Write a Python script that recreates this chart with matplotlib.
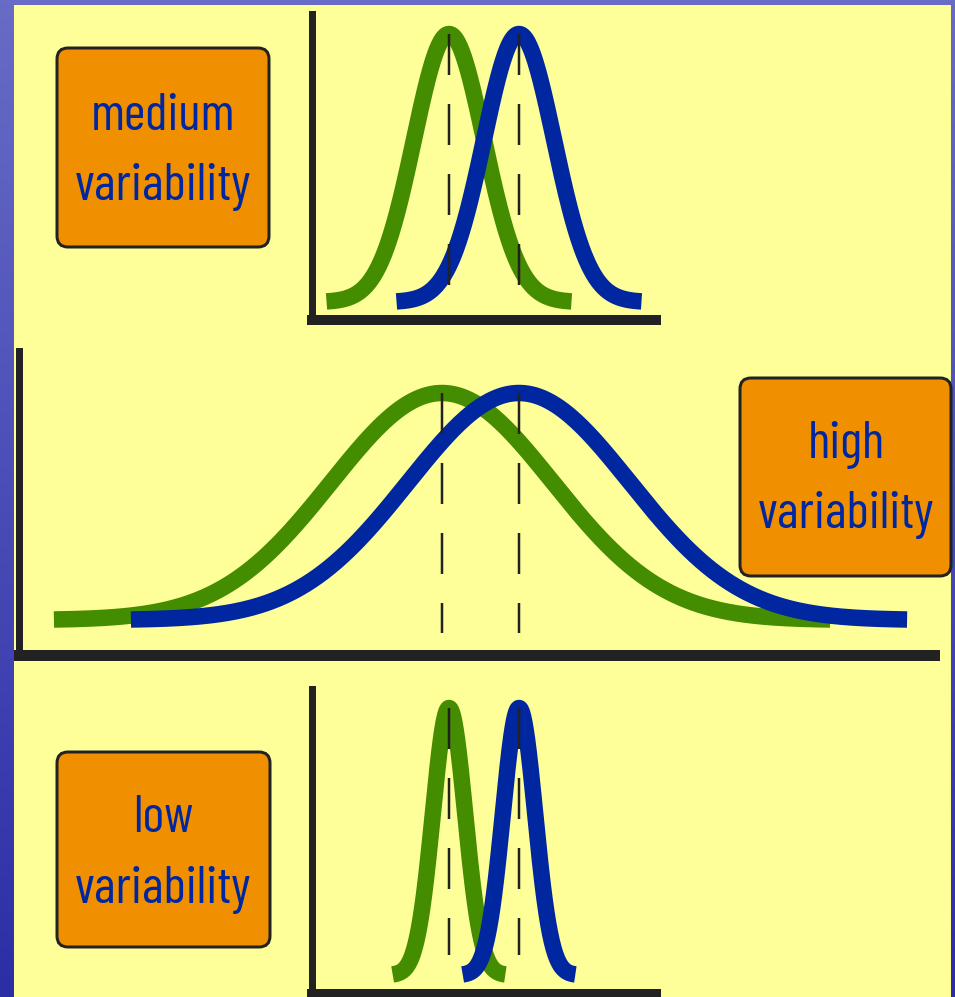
import numpy as np
import matplotlib
matplotlib.use('Agg')
import matplotlib.pyplot as plt
from matplotlib.patches import Rectangle, FancyBboxPatch

plt.rcParams['lines.scale_dashes'] = False

# two groups, one unit of separation between their means
group_means = [100, 110]                 # green group, blue group
group_colors = ['#448c00', '#0026a0']

# one spread per panel, top to bottom
panel_sd = [5.0, 14.4, 2.3]
panel_labels = [['medium', 'variability'],
                ['high', 'variability'],
                ['low', 'variability']]
sd_range = 3.5                           # curves drawn out to +/- 3.5 sd

W, H = 955, 997
PX = 0.72                                # points per pixel at dpi 100

# ---------------- layout (pixels) ----------------
# axes box (left, right, top, bottom), x of green mean, px per unit,
# y of the peak, y of the baseline, y where the mean lines stop
panel_box = [(312, 656, 14.5, 320), (18.5, 933.5, 351.5, 655), (311.5, 656, 688.5, 993)]
panel_green_px = [449, 442, 449]
panel_ppu = [7.0, 7.7, 7.0]
panel_peak_px = [34, 393, 708]
panel_base_px = [302, 620, 975]
panel_dash_end = [285, 633, 955]
panel_spine_w = [(7, 10), (7, 11), (7, 9)]

label_boxes = [(57, 48, 212, 199), (740, 378, 211, 198), (57, 752, 213, 195)]
label_x = [163, 846, 163]
label_base_y = [(130, 200), (458, 528), (832, 903)]
label_font = ['Barlow Condensed', 'Archivo Narrow', 'Liberation Sans Narrow', 'DejaVu Sans']
label_width = 176                        # px width of "variability"


def pdf(x, mu, sd):
    return np.exp(-0.5 * ((x - mu) / sd) ** 2) / (sd * np.sqrt(2 * np.pi))


fig = plt.figure(figsize=(W / 100, H / 100), dpi=100)

# background: blue gradient with the pale yellow sheet on top
bg = fig.add_axes([0, 0, 1, 1])
bg.set_xlim(0, W)
bg.set_ylim(H, 0)
bg.axis('off')
top_c = np.array([0x68, 0x6c, 0xc6]) / 255
bot_c = np.array([0x2c, 0x2e, 0xa6]) / 255
t = np.linspace(0, 1, 200)[:, None, None]
grad = top_c * (1 - t) + bot_c * t
bg.imshow(grad, extent=(0, W, H, 0), aspect='auto', zorder=0)
bg.add_patch(Rectangle((14, 5), 937, H - 5, facecolor='#ffff99', edgecolor='none', zorder=1))

# ---------------- the three panels ----------------
for i, sd in enumerate(panel_sd):
    left, right, top, bottom = panel_box[i]
    ax = fig.add_axes([left / W, 1 - bottom / H, (right - left) / W, (bottom - top) / H])
    ax.patch.set_visible(False)

    mu0 = group_means[0]
    ppu = panel_ppu[i]
    ax.set_xlim(mu0 - (panel_green_px[i] - left) / ppu, mu0 + (right - panel_green_px[i]) / ppu)

    peak = pdf(0, 0, sd)
    span = panel_base_px[i] - panel_peak_px[i]

    def to_y(p):
        return peak * (panel_base_px[i] - p) / span

    ax.set_ylim(to_y(bottom), to_y(top))

    for mu, col in zip(group_means, group_colors):
        x = np.linspace(mu - sd_range * sd, mu + sd_range * sd, 400)
        ax.plot(x, pdf(x, mu, sd), color=col, lw=16.5 * PX, solid_capstyle='butt', zorder=2)
    for mu in group_means:
        ax.plot([mu, mu], [peak, to_y(panel_dash_end[i])], color='#222222', lw=2.5 * PX,
                dashes=(41 * PX, 29 * PX), dash_capstyle='butt', zorder=3)

    for side in ['top', 'right']:
        ax.spines[side].set_visible(False)
    ax.spines['left'].set_linewidth(panel_spine_w[i][0] * PX)
    ax.spines['bottom'].set_linewidth(panel_spine_w[i][1] * PX)
    for side in ['left', 'bottom']:
        ax.spines[side].set_color('#222222')
    ax.set_xticks([])
    ax.set_yticks([])

# ---------------- orange labels ----------------
ov = fig.add_axes([0, 0, 1, 1])
ov.set_xlim(0, W)
ov.set_ylim(H, 0)
ov.axis('off')
ov.patch.set_visible(False)

# size the label font so "variability" is as wide as in the original
probe = ov.text(0, 0, 'variability', fontsize=40, family=label_font)
w40 = probe.get_window_extent(fig.canvas.get_renderer()).width
probe.remove()
label_size = 40 * label_width / w40

for (bx, by, bw, bh), lx, (y1, y2), lines in zip(label_boxes, label_x, label_base_y, panel_labels):
    ov.add_patch(FancyBboxPatch((bx, by), bw, bh, boxstyle='round,pad=0,rounding_size=11',
                                facecolor='#f09000', edgecolor='#222222', lw=3 * PX))
    for yy, txt in zip((y1, y2), lines):
        ov.text(lx, yy, txt, ha='center', va='baseline', fontsize=label_size, color='#0026a0',
                family=label_font)

fig.savefig('out.png', dpi=100)
